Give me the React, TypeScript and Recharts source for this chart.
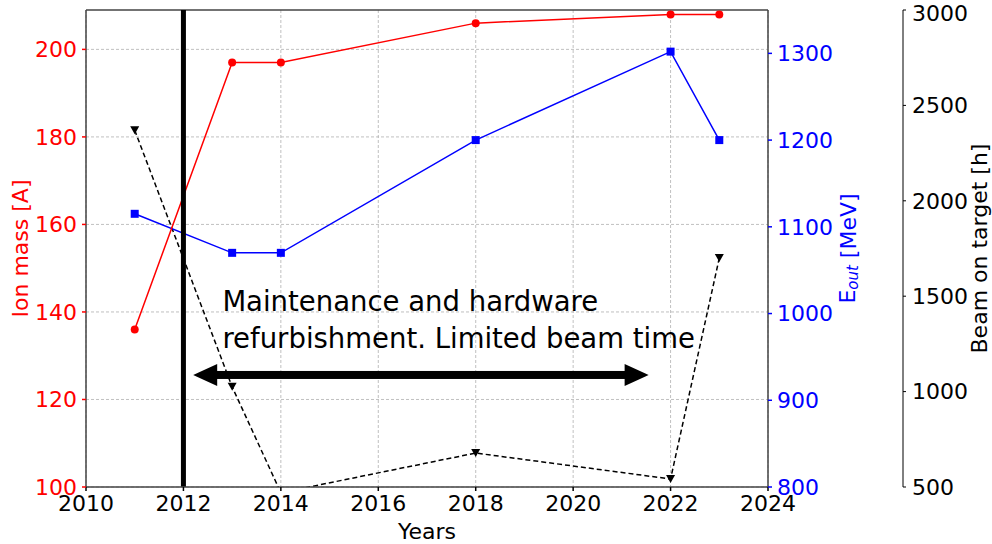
import React from 'react';
import {
  LineChart,
  Line,
  XAxis,
  YAxis,
  CartesianGrid,
  ReferenceLine,
  ReferenceDot,
} from 'recharts';

const years = [2011, 2013, 2014, 2018, 2022, 2023];
const ionMass = [136, 197, 197, 206, 208, 208];
const energyOut = [1115, 1070, 1070, 1200, 1302, 1200];
const beamHours = [2370, 1025, 470, 678, 542, 1700];

const yearTicks = [2010, 2012, 2014, 2016, 2018, 2020, 2022, 2024];
const massTicks = [100, 120, 140, 160, 180, 200];
const energyTicks = [800, 900, 1000, 1100, 1200, 1300];
const beamTicks = [500, 1000, 1500, 2000, 2500, 3000];

const noteLines = ['Maintenance and hardware', 'refurbishment. Limited beam time'];

const data = years.map((year, i) => ({
  year,
  mass: ionMass[i],
  energy: energyOut[i],
  beam: beamHours[i],
}));

const FONT = 'DejaVu Sans';
const SPINE = '#444';

// vertical axis title, centred on the axis box and nudged by dx
const axisTitle = (text: React.ReactNode, color: string, dx: number) => (props: any) => {
  const { x, y, width, height } = props.viewBox;
  const cx = x + width / 2 + dx;
  const cy = y + height / 2;
  return (
    <text
      x={cx}
      y={cy}
      transform={`rotate(-90 ${cx} ${cy})`}
      textAnchor="middle"
      dominantBaseline="central"
      fill={color}
      fontSize={22}
      fontFamily={FONT}
    >
      {text}
    </text>
  );
};

const squareDot = (props: any) => {
  const { cx, cy, key } = props;
  return <rect key={key} x={cx - 4} y={cy - 4} width={8} height={8} fill="blue" />;
};

const triangleDot = (props: any) => {
  const { cx, cy, key } = props;
  return (
    <path key={key} d={`M${cx - 4.5},${cy - 4} L${cx + 4.5},${cy - 4} L${cx},${cy + 4} Z`} fill="black" />
  );
};

const doubleArrow = (props: any) => {
  const { x1, y1, x2 } = props;
  const head = 24;
  const half = 11;
  const shaft = 4;
  return (
    <g>
      <rect x={x1 + head - 2} y={y1 - shaft} width={x2 - x1 - 2 * head + 4} height={shaft * 2} fill="black" />
      <path d={`M${x1},${y1} L${x1 + head},${y1 - half} L${x1 + head},${y1 + half} Z`} fill="black" />
      <path d={`M${x2},${y1} L${x2 - head},${y1 - half} L${x2 - head},${y1 + half} Z`} fill="black" />
    </g>
  );
};

const noteLabel = (props: any) => {
  const { x, y } = props.viewBox;
  return (
    <text x={x} y={y} fontSize={27.5} fontFamily={FONT} fill="black">
      {noteLines.map((line, i) => (
        <tspan key={i} x={x} dy={i === 0 ? 0 : 37}>
          {line}
        </tspan>
      ))}
    </text>
  );
};

export default function App() {
  return (
    <div style={{ position: 'absolute', left: 0, top: 0 }}>
      <LineChart
        width={992}
        height={544}
        data={data}
        margin={{ top: 10, right: 0, bottom: 0, left: 0 }}
        style={{ fontFamily: FONT }}
      >
        <CartesianGrid
          yAxisId="a_mass"
          stroke="#b0b0b0"
          strokeDasharray="3 2"
          strokeWidth={0.8}
          horizontalValues={massTicks}
          verticalValues={yearTicks}
        />
        <XAxis
          dataKey="year"
          type="number"
          domain={[2010, 2024]}
          ticks={yearTicks}
          allowDataOverflow
          height={57}
          tickSize={4}
          tickMargin={4}
          stroke={SPINE}
          strokeWidth={1.5}
          tick={{ fill: 'black', fontSize: 22 }}
          tickLine={{ stroke: 'black' }}
          label={{ value: 'Years', position: 'insideBottom', offset: 5, fill: 'black', fontSize: 22 }}
        />
        <YAxis
          yAxisId="a_mass"
          domain={[100, 209]}
          ticks={massTicks}
          allowDataOverflow
          width={86}
          tickSize={4}
          tickMargin={5}
          stroke={SPINE}
          strokeWidth={1.5}
          tick={{ fill: 'red', fontSize: 22 }}
          tickLine={{ stroke: 'red' }}
          label={axisTitle('Ion mass [A]', 'red', -23)}
        />
        <YAxis
          yAxisId="b_energy"
          orientation="right"
          domain={[800, 1350]}
          ticks={energyTicks}
          allowDataOverflow
          width={135}
          tickSize={4}
          tickMargin={5}
          stroke={SPINE}
          strokeWidth={1.5}
          tick={{ fill: 'blue', fontSize: 22 }}
          tickLine={{ stroke: 'blue' }}
          label={axisTitle(
            <>
              E
              <tspan fontSize={15} fontStyle="italic" dy={5}>
                out
              </tspan>
              <tspan dy={-5}> [MeV]</tspan>
            </>,
            'blue',
            12
          )}
        />
        <YAxis
          yAxisId="c_beam"
          orientation="right"
          domain={[500, 3000]}
          ticks={beamTicks}
          allowDataOverflow
          width={89}
          tickSize={3}
          tickMargin={6}
          stroke="black"
          strokeWidth={1}
          tick={{ fill: 'black', fontSize: 22 }}
          tickLine={{ stroke: 'black' }}
          label={axisTitle('Beam on target [h]', 'black', 32)}
        />
        <ReferenceLine yAxisId="a_mass" y={209} stroke={SPINE} strokeWidth={1.5} />
        <Line
          yAxisId="c_beam"
          dataKey="beam"
          stroke="black"
          strokeWidth={1.5}
          strokeDasharray="5 3"
          dot={triangleDot}
          isAnimationActive={false}
        />
        <Line
          yAxisId="b_energy"
          dataKey="energy"
          stroke="blue"
          strokeWidth={1.5}
          dot={squareDot}
          isAnimationActive={false}
        />
        <Line
          yAxisId="a_mass"
          dataKey="mass"
          stroke="red"
          strokeWidth={1.5}
          dot={{ r: 4, fill: 'red', stroke: 'red', strokeWidth: 0 }}
          isAnimationActive={false}
        />
        <ReferenceLine yAxisId="a_mass" x={2012} stroke="black" strokeWidth={5} />
        <ReferenceLine
          yAxisId="a_mass"
          segment={[
            { x: 2012.2, y: 125.6 },
            { x: 2021.55, y: 125.6 },
          ]}
          shape={doubleArrow}
        />
        <ReferenceDot
          yAxisId="a_mass"
          x={2012.8}
          y={140.3}
          r={0}
          fill="none"
          stroke="none"
          label={noteLabel}
        />
      </LineChart>
    </div>
  );
}
